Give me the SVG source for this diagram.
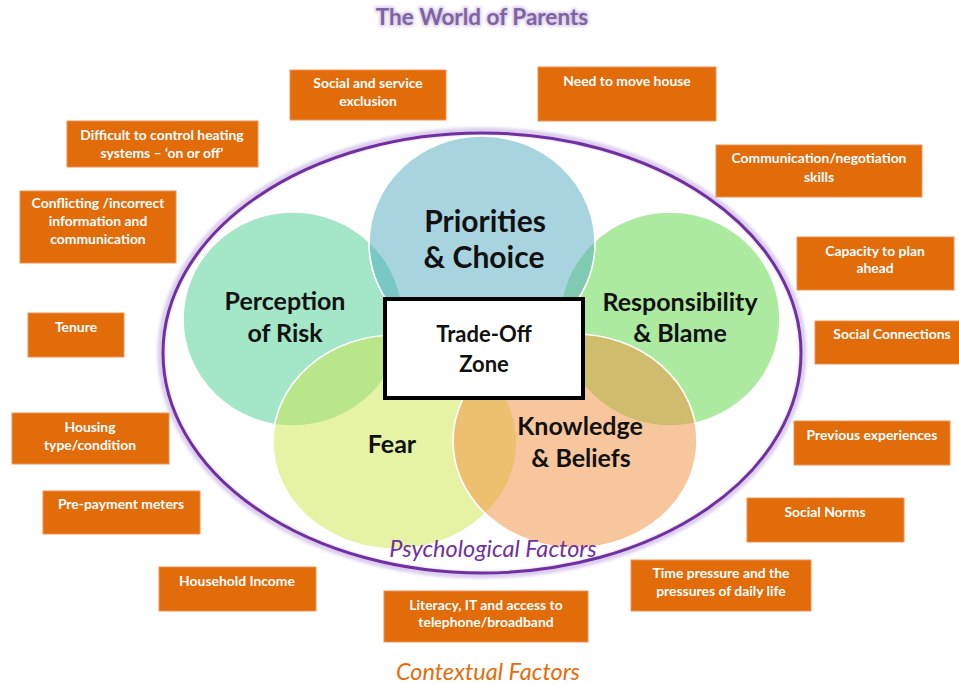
<svg xmlns="http://www.w3.org/2000/svg" width="959" height="684" viewBox="0 0 959 684">
<defs>
<style>
.box rect{fill:#e26b0a;stroke:#ef9452;stroke-width:1}
.box text{fill:#ffffff;font-family:Lato,"Liberation Sans",sans-serif;font-weight:bold;font-size:13.9px;text-anchor:middle}
.venn ellipse{fill-opacity:0.5;stroke:#ffffff;stroke-width:1.6}
.lbl{font-family:Lato,"Liberation Sans",sans-serif;font-weight:bold;fill:#111111;text-anchor:middle}
</style>
<filter id="glow" x="-20%" y="-50%" width="140%" height="200%">
<feGaussianBlur stdDeviation="1.5"/>
</filter>
</defs>
<rect width="959" height="684" fill="#ffffff"/>

<g id="title">
<text x="482" y="25" font-family="Lato,'Liberation Sans',sans-serif" font-weight="bold" font-size="22.5" text-anchor="middle" fill="#d9cdea" stroke="#d9cdea" stroke-width="3" filter="url(#glow)">The World of Parents</text>
<text x="482" y="25" font-family="Lato,'Liberation Sans',sans-serif" font-weight="bold" font-size="22.5" text-anchor="middle" fill="#8064a2">The World of Parents</text>
</g>

<g id="world-ellipse">
<ellipse cx="482" cy="353" rx="321" ry="222" fill="none" stroke="#cdb8e6" stroke-width="7" opacity="0.7" filter="url(#glow)"/>
<ellipse cx="482" cy="353" rx="319" ry="220" fill="none" stroke="#7030a0" stroke-width="3"/>
</g>

<g class="venn" id="circles">
<g id="perception"><ellipse cx="293" cy="319" rx="110" ry="107" fill="#47cd91"/></g>
<g id="responsibility"><ellipse cx="670" cy="319" rx="110" ry="107" fill="#59d541"/></g>
<g id="priorities"><ellipse cx="482" cy="243" rx="113" ry="107" fill="#51a9c1"/></g>
<g id="fear"><ellipse cx="395" cy="442" rx="122" ry="107" fill="#cde549"/></g>
<g id="knowledge"><ellipse cx="575" cy="441" rx="122" ry="107" fill="#f18d39"/></g>
</g>

<g id="circle-labels">
<text class="lbl" x="485" y="232" font-size="30">Priorities</text>
<text class="lbl" x="484" y="268" font-size="30">&amp; Choice</text>
<text class="lbl" x="285" y="310" font-size="25">Perception</text>
<text class="lbl" x="285" y="342" font-size="25">of Risk</text>
<text class="lbl" x="680" y="311" font-size="25">Responsibility</text>
<text class="lbl" x="680" y="342" font-size="25">&amp; Blame</text>
<text class="lbl" x="392" y="453" font-size="25">Fear</text>
<text class="lbl" x="580" y="435" font-size="25">Knowledge</text>
<text class="lbl" x="581" y="467" font-size="25">&amp; Beliefs</text>
</g>

<g id="trade-off">
<rect x="385" y="299" width="198" height="99" fill="#ffffff" stroke="#000000" stroke-width="4"/>
<text class="lbl" x="484" y="342" font-size="22">Trade-Off</text>
<text class="lbl" x="484" y="372" font-size="22">Zone</text>
</g>

<text id="psych" x="493" y="557" font-family="Lato,'Liberation Sans',sans-serif" font-style="italic" font-size="23.5" fill="#7030a0" text-anchor="middle">Psychological Factors</text>
<text id="context" x="488" y="680" font-family="Lato,'Liberation Sans',sans-serif" font-style="italic" font-size="23.5" fill="#e46c0a" text-anchor="middle">Contextual Factors</text>

<g id="connectors"></g>

<g class="box" id="b-social-exclusion"><rect x="290" y="70" width="156" height="50"/><text x="368" y="88">Social and service</text><text x="368" y="106">exclusion</text></g>
<g class="box" id="b-heating"><rect x="67" y="121" width="191" height="46"/><text x="162" y="140">Difficult to control heating</text><text x="162" y="158">systems – ‘on or off’</text></g>
<g class="box" id="b-conflicting"><rect x="20" y="191" width="156" height="72"/><text x="98" y="208">Conflicting /incorrect</text><text x="98" y="226">information and</text><text x="98" y="244">communication</text></g>
<g class="box" id="b-move"><rect x="538" y="67" width="178" height="54"/><text x="627" y="86">Need to move house</text></g>
<g class="box" id="b-negotiation"><rect x="716" y="145" width="206" height="52"/><text x="819" y="163">Communication/negotiation</text><text x="819" y="182">skills</text></g>
<g class="box" id="b-plan"><rect x="797" y="237" width="157" height="53"/><text x="875" y="256">Capacity to plan</text><text x="875" y="273">ahead</text></g>
<g class="box" id="b-tenure"><rect x="28" y="313" width="96" height="44"/><text x="76" y="332">Tenure</text></g>
<g class="box" id="b-housing"><rect x="12" y="413" width="157" height="51"/><text x="90" y="432">Housing</text><text x="90" y="450">type/condition</text></g>
<g class="box" id="b-prepayment"><rect x="43" y="491" width="157" height="43"/><text x="121" y="509">Pre-payment meters</text></g>
<g class="box" id="b-income"><rect x="159" y="567" width="157" height="44"/><text x="237" y="586">Household Income</text></g>
<g class="box" id="b-literacy"><rect x="384" y="591" width="204" height="51"/><text x="486" y="610">Literacy, IT and access to</text><text x="486" y="627">telephone/broadband</text></g>
<g class="box" id="b-time"><rect x="631" y="560" width="180" height="51"/><text x="721" y="578">Time pressure and the</text><text x="721" y="596">pressures of daily life</text></g>
<g class="box" id="b-norms"><rect x="747" y="498" width="157" height="44"/><text x="825" y="517">Social Norms</text></g>
<g class="box" id="b-previous"><rect x="794" y="421" width="156" height="44"/><text x="872" y="440">Previous experiences</text></g>
<g class="box" id="b-connections"><rect x="815" y="321" width="160" height="43"/><text x="892" y="339">Social Connections</text></g>
</svg>
